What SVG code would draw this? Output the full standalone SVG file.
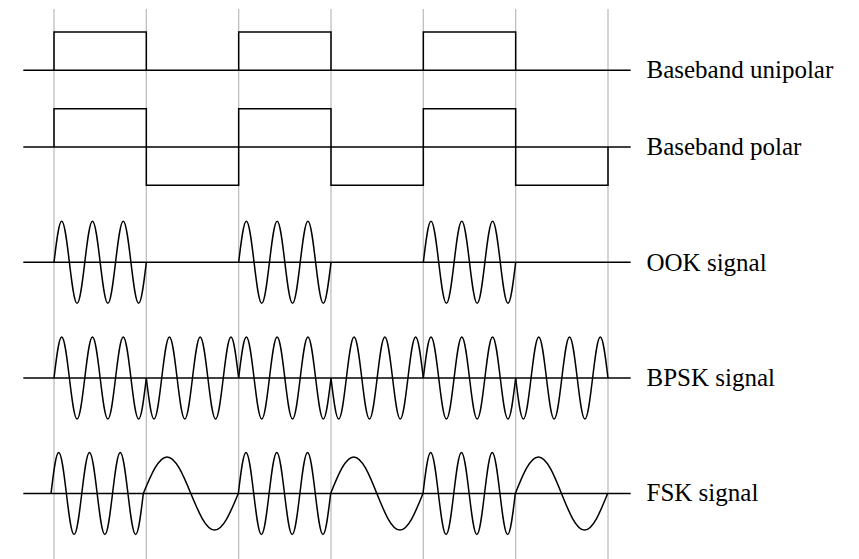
<svg xmlns="http://www.w3.org/2000/svg" width="859" height="559" viewBox="0 0 859 559">
  <defs>
    <path id="hi-up" d="m0,0 c2.509,-21 4.910,-41 7.694,-41 s5.185,20 7.694,41 s4.910,41 7.694,41 s5.185,-20 7.694,-41 s4.910,-41 7.694,-41 s5.185,20 7.694,41 s4.910,41 7.694,41 s5.185,-20 7.694,-41 s4.910,-41 7.694,-41 s5.185,20 7.694,41 s4.910,41 7.694,41 s5.185,-20 7.694,-41"/>
  </defs>
  <rect width="859" height="559" fill="#fff"/>
  <g id="grid" stroke="#bfbfbf" stroke-width="1.3" fill="none">
    <line x1="54" y1="9" x2="54" y2="559"/>
    <line x1="146.33" y1="9" x2="146.33" y2="559"/>
    <line x1="238.67" y1="9" x2="238.67" y2="559"/>
    <line x1="331" y1="9" x2="331" y2="559"/>
    <line x1="423.33" y1="9" x2="423.33" y2="559"/>
    <line x1="515.67" y1="9" x2="515.67" y2="559"/>
    <line x1="608" y1="9" x2="608" y2="559"/>
  </g>
  <g id="signals" stroke="#000" stroke-width="1.5" fill="none">
    <g id="unipolar">
      <line x1="23.3" y1="70.3" x2="630.7" y2="70.3"/>
      <path d="M54,70.3 V32 H146.33 V70.3 M238.67,70.3 V32 H331 V70.3 M423.33,70.3 V32 H515.67 V70.3"/>
    </g>
    <g id="polar">
      <line x1="23.3" y1="147" x2="630.7" y2="147"/>
      <path d="M54,147 V108.7 H146.33 V185.3 H238.67 V108.7 H331 V185.3 H423.33 V108.7 H515.67 V185.3 H608 V147"/>
    </g>
    <g id="ook">
      <line x1="23.3" y1="262.3" x2="630.7" y2="262.3"/>
      <use href="#hi-up" x="54" y="262.3"/>
      <use href="#hi-up" x="238.67" y="262.3"/>
      <use href="#hi-up" x="423.33" y="262.3"/>
    </g>
    <g id="bpsk">
      <line x1="23.3" y1="378" x2="630.7" y2="378"/>
      <use href="#hi-up" x="54" y="378"/>
      <use href="#hi-up" transform="translate(146.33,378) scale(1,-1)"/>
      <use href="#hi-up" x="238.67" y="378"/>
      <use href="#hi-up" transform="translate(331,378) scale(1,-1)"/>
      <use href="#hi-up" x="423.33" y="378"/>
      <use href="#hi-up" transform="translate(515.67,378) scale(1,-1)"/>
    </g>
    <g id="fsk">
      <line x1="23.3" y1="493.5" x2="630.7" y2="493.5"/>
      <path d="M51,493.5 c2.509,-21 4.910,-41 7.694,-41 s5.185,20 7.694,41 s4.910,41 7.694,41 s5.185,-20 7.694,-41 s4.910,-41 7.694,-41 s5.185,20 7.694,41 s4.910,41 7.694,41 s5.185,-20 7.694,-41 s4.910,-41 7.694,-41 s5.185,20 7.694,41 s4.910,41 7.694,41 s5.185,-20 7.694,-41
        c7.745,-18.7 15.155,-36.5 23.75,-36.5 s16.005,17.8 23.75,36.5 s15.155,36.5 23.75,36.5 s16.005,-17.8 23.75,-36.5
        c2.509,-21 4.910,-41 7.694,-41 s5.185,20 7.694,41 s4.910,41 7.694,41 s5.185,-20 7.694,-41 s4.910,-41 7.694,-41 s5.185,20 7.694,41 s4.910,41 7.694,41 s5.185,-20 7.694,-41 s4.910,-41 7.694,-41 s5.185,20 7.694,41 s4.910,41 7.694,41 s5.185,-20 7.694,-41
        c7.527,-18.7 14.728,-36.5 23.083,-36.5 s15.555,17.8 23.083,36.5 s14.728,36.5 23.083,36.5 s15.555,-17.8 23.083,-36.5
        c2.509,-21 4.910,-41 7.694,-41 s5.185,20 7.694,41 s4.910,41 7.694,41 s5.185,-20 7.694,-41 s4.910,-41 7.694,-41 s5.185,20 7.694,41 s4.910,41 7.694,41 s5.185,-20 7.694,-41 s4.910,-41 7.694,-41 s5.185,20 7.694,41 s4.910,41 7.694,41 s5.185,-20 7.694,-41
        c7.527,-18.7 14.728,-36.5 23.083,-36.5 s15.555,17.8 23.083,36.5 s14.728,36.5 23.083,36.5 s15.555,-17.8 23.083,-36.5"/>
    </g>
  </g>
  <g id="labels" font-family="Times New Roman, Liberation Serif, serif" font-size="25" fill="#000">
    <text x="646.5" y="77.5">Baseband unipolar</text>
    <text x="646.5" y="155">Baseband polar</text>
    <text x="646.5" y="270.5">OOK signal</text>
    <text x="646.5" y="385.5">BPSK signal</text>
    <text x="646.5" y="500.5">FSK signal</text>
  </g>
</svg>
